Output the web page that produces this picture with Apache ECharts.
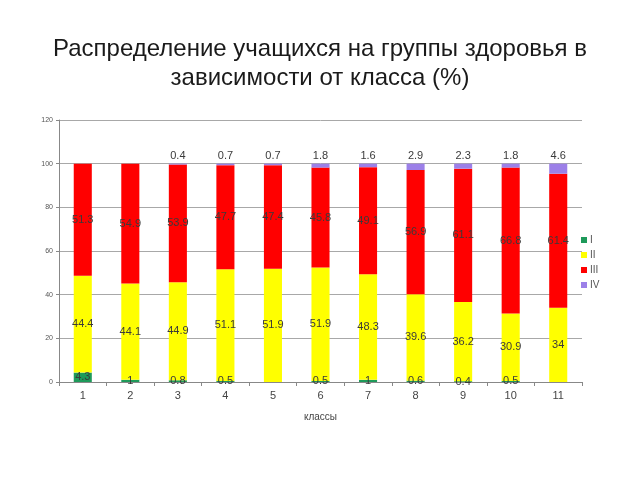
<!DOCTYPE html>
<html><head><meta charset="utf-8">
<script src="https://cdn.jsdelivr.net/npm/echarts@6/dist/echarts.min.js"></script>
<style>html,body{margin:0;padding:0;background:#fff}#c{width:640px;height:480px}</style>
</head><body><div id="c"></div>
<script>
const categories = ['1','2','3','4','5','6','7','8','9','10','11'];
const groupI   = [4.3, 1, 0.8, 0.5, null, 0.5, 1, 0.6, 0.4, 0.5, null];
const groupII  = [44.4, 44.1, 44.9, 51.1, 51.9, 51.9, 48.3, 39.6, 36.2, 30.9, 34];
const groupIII = [51.3, 54.9, 53.9, 47.7, 47.4, 45.8, 49.1, 56.9, 61.1, 66.8, 61.4];
const groupIV  = [null, null, 0.4, 0.7, 0.7, 1.8, 1.6, 2.9, 2.3, 1.8, 4.6];
const yTicks = [0, 20, 40, 60, 80, 100, 120];

const chart = echarts.init(document.getElementById('c'), null, {renderer:'canvas'});
const lbl = (pos) => ({show:true, position:pos, color:'#3a3a3a', fontSize:11, fontFamily:'Liberation Sans, Arial, sans-serif', distance:2,
  formatter: p => (p.value === null || p.value === undefined) ? '' : String(p.value)});
function s(name, data, color, pos){
  return {name, type:'bar', stack:'t', data, barWidth:'38%', itemStyle:{color}, label:lbl(pos)};
}
chart.setOption({
  animation:false,
  title:{text:'Распределение учащихся на группы здоровья в\nзависимости от класса (%)', left:'center', top:30,
    textStyle:{fontSize:24, fontWeight:'normal', color:'#1a1a1a', fontFamily:'Liberation Sans, Arial, sans-serif', lineHeight:29}},
  legend:{orient:'vertical', left:576, top:230, itemWidth:6, itemHeight:6, itemGap:5, icon:'rect',
    textStyle:{fontSize:10, color:'#555', fontFamily:'Liberation Sans, Arial, sans-serif', padding:[0,0,0,-2]},
    data:['I','II','III','IV']},
  grid:{left:59, right:58, top:120, bottom:98},
  xAxis:{type:'category', data:categories, name:'классы', nameLocation:'middle', nameGap:30,
    nameTextStyle:{fontSize:10, color:'#444', fontFamily:'Liberation Sans, Arial, sans-serif'},
    axisLine:{lineStyle:{color:'#888'}}, axisTick:{show:true, length:4, lineStyle:{color:'#888'}},
    axisLabel:{fontSize:11, color:'#444', margin:8, fontFamily:'Liberation Sans, Arial, sans-serif'}},
  yAxis:{type:'value', min:yTicks[0], max:yTicks[yTicks.length-1], interval:20,
    axisLine:{show:true, lineStyle:{color:'#888'}}, axisTick:{show:true, length:3, lineStyle:{color:'#888'}},
    axisLabel:{fontSize:7, color:'#555', margin:6, fontFamily:'Liberation Sans, Arial, sans-serif'},
    splitLine:{lineStyle:{color:'#a8a8a8', width:1}}},
  series:[
    s('I', groupI, '#1e9a5a', 'inside'),
    s('II', groupII, '#ffff00', 'inside'),
    s('III', groupIII, '#ff0000', 'inside'),
    s('IV', groupIV, '#9c80e8', 'top')
  ]
});
</script></body></html>
